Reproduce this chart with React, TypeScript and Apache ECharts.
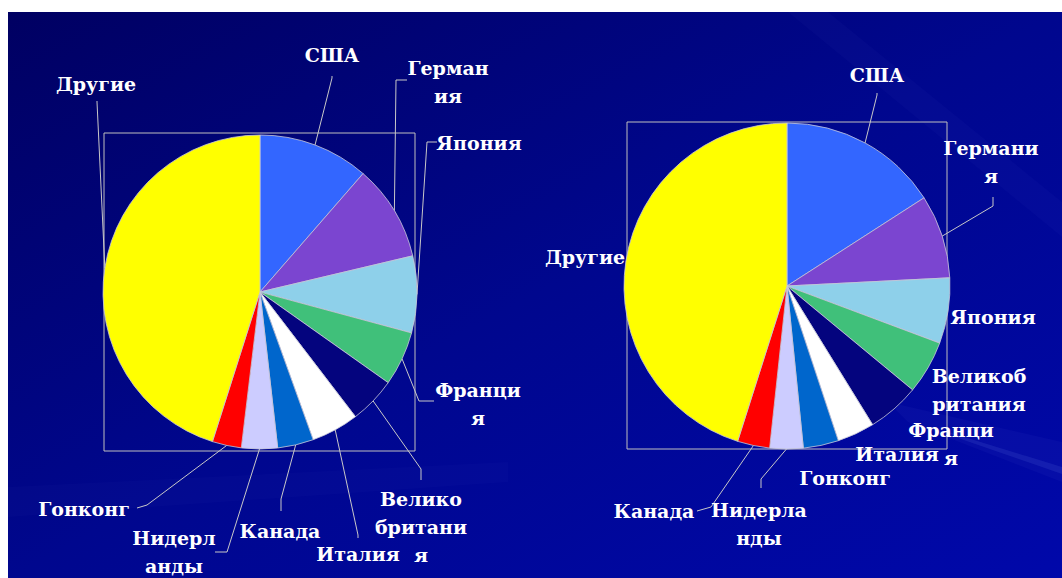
import React, { useEffect, useRef } from "react";
import * as echarts from "echarts";

// ---- data ----
const categoriesLeft = ["США", "Германия", "Япония", "Франция", "Великобритания", "Италия", "Канада", "Нидерланды", "Гонконг", "Другие"];
const valuesLeft = [11.4, 9.9, 7.9, 5.6, 4.8, 4.9, 3.7, 3.7, 3.0, 45.1];
const labelTextsLeft = ["США", "Герман\nия", "Япония", "Франци\nя", "Велико\nбритани\nя", "Италия", "Канада", "Нидерл\nанды", "Гонконг", "Другие"];

const categoriesRight = ["США", "Германия", "Япония", "Великобритания", "Франция", "Италия", "Гонконг", "Нидерланды", "Канада", "Другие"];
const valuesRight = [15.9, 8.3, 6.5, 5.3, 5.2, 3.7, 3.5, 3.3, 3.2, 45.1];
const labelTextsRight = ["США", "Германи\nя", "Япония", "Великоб\nритания", "Франци\nя", "Италия", "Гонконг", "Нидерла\nнды", "Канада", "Другие"];

const sliceColors = ["#3366FF", "#7B45D0", "#8ED0EA", "#40C07A", "#04047E", "#FFFFFF", "#0066CC", "#CCCCFF", "#FF0000", "#FFFF00"];

// ---- label layout (page coordinates) ----
const OX = 8;
const OY = 12;
type LL = { x: number; y: number; line: number[][] | null };
const leftLabelLayout: LL[] = [
  { x: 332, y: 55, line: [[332, 78], [332, 76]] },
  { x: 448, y: 82, line: [[396, 80], [407, 80]] },
  { x: 479, y: 143, line: [[427, 142], [437, 142]] },
  { x: 478, y: 404, line: [[419, 401], [434, 401]] },
  { x: 421, y: 527, line: [[421, 469], [421, 480]] },
  { x: 358, y: 554, line: [[358, 535], [358, 538]] },
  { x: 280, y: 531, line: [[281, 499], [281, 511]] },
  { x: 174, y: 552, line: [[227, 552], [215, 552]] },
  { x: 84, y: 509, line: [[147, 505], [137, 508]] },
  { x: 96, y: 84, line: [[97, 102], [97, 101]] },
];
const rightLabelLayout: LL[] = [
  { x: 877, y: 75, line: [[877, 95], [877, 93]] },
  { x: 991, y: 162, line: [[993, 206], [993, 197]] },
  { x: 993, y: 317, line: null },
  { x: 979, y: 390, line: null },
  { x: 951, y: 444, line: null },
  { x: 897, y: 454, line: null },
  { x: 845, y: 478, line: null },
  { x: 759, y: 524, line: [[761, 479], [761, 488]] },
  { x: 654, y: 511, line: [[711, 507], [697, 511]] },
  { x: 585, y: 257, line: null },
];

const labelStyle = {
  color: "#FFFFFF",
  fontFamily: "DejaVu Serif",
  fontWeight: "bold" as const,
  fontSize: 19,
  lineHeight: 28,
  textShadowColor: "rgba(0,0,30,0.6)",
  textShadowOffsetX: 1,
  textShadowOffsetY: 1,
  textShadowBlur: 0,
};

function makeSeries(
  cats: string[],
  vals: number[],
  texts: string[],
  layout: LL[],
  center: number[],
  radius: number
) {
  return {
    type: "pie",
    center,
    radius,
    startAngle: 90,
    clockwise: true,
    avoidLabelOverlap: false,
    itemStyle: { borderColor: "#C8C8D8", borderWidth: 0.8 },
    label: {
      show: true,
      position: "outside",
      formatter: (p: any) => texts[p.dataIndex],
      ...labelStyle,
    },
    labelLine: { show: true, lineStyle: { color: "#C8C8C8", width: 1 } },
    labelLayout: (params: any) => {
      const L = layout[params.dataIndex];
      const res: any = { x: L.x - OX, y: L.y - OY, align: "center", verticalAlign: "middle" };
      if (L.line && params.labelLinePoints) {
        res.labelLinePoints = [
          params.labelLinePoints[0],
          [L.line[0][0] - OX, L.line[0][1] - OY],
          [L.line[1][0] - OX, L.line[1][1] - OY],
        ];
      }
      return res;
    },
    emphasis: { disabled: true },
    data: cats.map((name, i) => ({
      name,
      value: vals[i],
      itemStyle: { color: sliceColors[i] },
      labelLine: { show: layout[i].line !== null },
    })),
  };
}

export default function App() {
  const ref = useRef<HTMLDivElement>(null);
  useEffect(() => {
    if (!ref.current) return;
    const chart = echarts.init(ref.current, undefined, { renderer: "svg" });
    const ray = "rgba(130,160,255,0.045)";
    chart.setOption({
      animation: false,
      backgroundColor: new echarts.graphic.LinearGradient(0, 0, 1, 1, [
        { offset: 0, color: "#000062" },
        { offset: 0.5, color: "#00078E" },
        { offset: 1, color: "#0008AA" },
      ]),
      graphic: [
        { type: "polygon", z: 0, silent: true, shape: { points: [[880, 390], [1054, 430], [1054, 470], [900, 410]] }, style: { fill: ray } },
        { type: "polygon", z: 0, silent: true, shape: { points: [[940, 420], [1054, 455], [1054, 462], [950, 426]] }, style: { fill: "rgba(150,180,255,0.10)" } },
        { type: "polygon", z: 0, silent: true, shape: { points: [[780, 0], [820, 0], [1054, 190], [1054, 225]] }, style: { fill: "rgba(130,160,255,0.03)" } },
        { type: "polygon", z: 0, silent: true, shape: { points: [[0, 475], [500, 450], [500, 470], [0, 505]] }, style: { fill: "rgba(130,160,255,0.025)" } },
        { type: "rect", z: 0, silent: true, shape: { x: 96, y: 121, width: 311, height: 318 }, style: { fill: "none", stroke: "#BFBFBF", lineWidth: 1 } },
        { type: "rect", z: 0, silent: true, shape: { x: 619, y: 110, width: 320, height: 327 }, style: { fill: "none", stroke: "#BFBFBF", lineWidth: 1 } },
      ],
      series: [
        makeSeries(categoriesLeft, valuesLeft, labelTextsLeft, leftLabelLayout, [252, 280], 157),
        makeSeries(categoriesRight, valuesRight, labelTextsRight, rightLabelLayout, [779, 274], 163),
      ],
    });
    return () => chart.dispose();
  }, []);
  return (
    <div
      ref={ref}
      style={{ position: "fixed", left: 8, top: 12, width: 1054, height: 566 }}
    />
  );
}
